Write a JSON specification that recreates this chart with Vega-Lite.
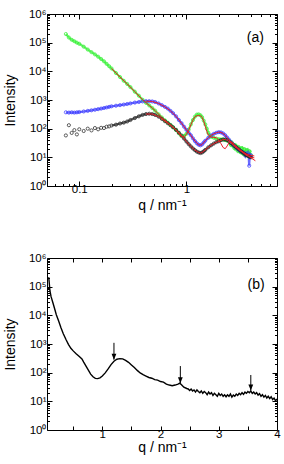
{
  "$schema": "https://vega.github.io/schema/vega-lite/v6.json",
  "padding": {"left": 2, "top": 7, "right": 5, "bottom": 2},
  "spacing": 38,
  "config": {
    "view": {"stroke": "black", "strokeWidth": 1},
    "font": "Liberation Sans",
    "axis": {"domain": false, "grid": false, "tickColor": "black", "tickWidth": 1, "labelFont": "Liberation Sans", "labelFontSize": 11.5, "labelColor": "black", "titleFont": "Liberation Sans", "titleFontSize": 14, "titleFontWeight": "normal", "titleColor": "black", "labelOverlap": false, "labelFlush": false}
  },
  "datasets": {
    "pts": [
      {"s":"g","q":0.075,"I":200000},{"s":"g","q":0.08,"I":151000},{"s":"g","q":0.085,"I":126000},{"s":"g","q":0.09,"I":112000},{"s":"g","q":0.095,"I":100000},{"s":"g","q":0.1,"I":91200},{"s":"g","q":0.11,"I":72400},{"s":"g","q":0.12,"I":57500},{"s":"g","q":0.13,"I":46800},{"s":"g","q":0.14,"I":38900},{"s":"g","q":0.15,"I":32400},{"s":"g","q":0.16,"I":26900},{"s":"g","q":0.17,"I":22400},{"s":"g","q":0.18,"I":18200},{"s":"g","q":0.19,"I":15100},{"s":"g","q":0.2,"I":12600},{"s":"g","q":0.22,"I":8710},{"s":"g","q":0.24,"I":6310},{"s":"g","q":0.26,"I":4680},{"s":"g","q":0.28,"I":3630},{"s":"g","q":0.3,"I":2820},{"s":"g","q":0.33,"I":1950},{"s":"g","q":0.36,"I":1410},{"s":"g","q":0.39,"I":1020},{"s":"g","q":0.42,"I":794},{"s":"g","q":0.45,"I":646},{"s":"g","q":0.48,"I":525},{"s":"g","q":0.51,"I":427},{"s":"g","q":0.55,"I":316},{"s":"g","q":0.59,"I":245},{"s":"g","q":0.63,"I":195},{"s":"g","q":0.67,"I":162},{"s":"g","q":0.71,"I":135},{"s":"g","q":0.75,"I":112},{"s":"g","q":0.8,"I":89},{"s":"g","q":0.85,"I":69},{"s":"g","q":0.9,"I":55},{"s":"g","q":0.95,"I":55},{"s":"g","q":1.0,"I":66},{"s":"g","q":1.05,"I":93},{"s":"g","q":1.1,"I":141},{"s":"g","q":1.15,"I":200},{"s":"g","q":1.2,"I":263},{"s":"g","q":1.25,"I":309},{"s":"g","q":1.3,"I":316},{"s":"g","q":1.35,"I":295},{"s":"g","q":1.4,"I":251},{"s":"g","q":1.45,"I":191},{"s":"g","q":1.5,"I":141},{"s":"g","q":1.55,"I":100},{"s":"g","q":1.6,"I":72},{"s":"g","q":1.65,"I":58},{"s":"g","q":1.7,"I":52},{"s":"g","q":1.8,"I":48},{"s":"g","q":1.9,"I":45},{"s":"g","q":2.0,"I":43},{"s":"g","q":2.1,"I":42},{"s":"g","q":2.2,"I":42},{"s":"g","q":2.3,"I":40},{"s":"g","q":2.4,"I":38},{"s":"g","q":2.5,"I":38},{"s":"g","q":2.55,"I":31},{"s":"g","q":2.6,"I":27},{"s":"g","q":2.65,"I":33},{"s":"g","q":2.7,"I":29},{"s":"g","q":2.75,"I":24},{"s":"g","q":2.8,"I":21},{"s":"g","q":2.85,"I":27},{"s":"g","q":2.9,"I":25},{"s":"g","q":2.95,"I":19},{"s":"g","q":3.0,"I":17},{"s":"g","q":3.05,"I":23},{"s":"g","q":3.1,"I":22},{"s":"g","q":3.15,"I":16},{"s":"g","q":3.2,"I":15},{"s":"g","q":3.25,"I":20},{"s":"g","q":3.3,"I":21},{"s":"g","q":3.35,"I":14},{"s":"g","q":3.4,"I":13},{"s":"g","q":3.45,"I":19},{"s":"g","q":3.5,"I":19},{"s":"g","q":3.55,"I":12},{"s":"g","q":3.6,"I":12},{"s":"g","q":3.65,"I":17},{"s":"g","q":3.7,"I":18},{"s":"g","q":3.75,"I":12},{"s":"g","q":3.8,"I":11},{"s":"g","q":3.85,"I":16},{"s":"g","q":3.9,"I":16},{"s":"g","q":3.95,"I":11},{"s":"g","q":4.0,"I":12},
      {"s":"b","q":0.075,"I":372},{"s":"b","q":0.08,"I":363},{"s":"b","q":0.085,"I":372},{"s":"b","q":0.09,"I":363},{"s":"b","q":0.095,"I":372},{"s":"b","q":0.1,"I":380},{"s":"b","q":0.11,"I":398},{"s":"b","q":0.12,"I":417},{"s":"b","q":0.13,"I":437},{"s":"b","q":0.14,"I":457},{"s":"b","q":0.15,"I":479},{"s":"b","q":0.16,"I":501},{"s":"b","q":0.17,"I":525},{"s":"b","q":0.18,"I":550},{"s":"b","q":0.19,"I":575},{"s":"b","q":0.2,"I":603},{"s":"b","q":0.22,"I":631},{"s":"b","q":0.24,"I":661},{"s":"b","q":0.26,"I":692},{"s":"b","q":0.28,"I":724},{"s":"b","q":0.3,"I":759},{"s":"b","q":0.33,"I":813},{"s":"b","q":0.36,"I":851},{"s":"b","q":0.39,"I":891},{"s":"b","q":0.42,"I":912},{"s":"b","q":0.45,"I":912},{"s":"b","q":0.48,"I":891},{"s":"b","q":0.51,"I":851},{"s":"b","q":0.55,"I":759},{"s":"b","q":0.59,"I":661},{"s":"b","q":0.63,"I":575},{"s":"b","q":0.67,"I":501},{"s":"b","q":0.71,"I":417},{"s":"b","q":0.75,"I":347},{"s":"b","q":0.8,"I":269},{"s":"b","q":0.85,"I":200},{"s":"b","q":0.9,"I":155},{"s":"b","q":0.95,"I":117},{"s":"b","q":1.0,"I":91},{"s":"b","q":1.05,"I":72},{"s":"b","q":1.1,"I":59},{"s":"b","q":1.15,"I":46},{"s":"b","q":1.2,"I":37},{"s":"b","q":1.25,"I":31},{"s":"b","q":1.3,"I":27.5},{"s":"b","q":1.35,"I":26.3},{"s":"b","q":1.4,"I":28.2},{"s":"b","q":1.45,"I":33},{"s":"b","q":1.5,"I":38},{"s":"b","q":1.6,"I":48},{"s":"b","q":1.7,"I":58},{"s":"b","q":1.8,"I":66},{"s":"b","q":1.9,"I":72},{"s":"b","q":2.0,"I":76},{"s":"b","q":2.1,"I":74},{"s":"b","q":2.2,"I":68},{"s":"b","q":2.3,"I":59},{"s":"b","q":2.4,"I":49},{"s":"b","q":2.5,"I":41},{"s":"b","q":2.6,"I":34},{"s":"b","q":2.7,"I":29},{"s":"b","q":2.8,"I":25},{"s":"b","q":2.9,"I":22.4},{"s":"b","q":3.0,"I":20},{"s":"b","q":3.1,"I":18.2},{"s":"b","q":3.2,"I":16.6},{"s":"b","q":3.3,"I":15.5},{"s":"b","q":3.4,"I":14.5},{"s":"b","q":3.5,"I":13.8},{"s":"b","q":3.55,"I":11.5},{"s":"b","q":3.6,"I":13.2},{"s":"b","q":3.7,"I":12.6},{"s":"b","q":3.75,"I":14.5},{"s":"b","q":3.8,"I":12.3},{"s":"b","q":3.85,"I":5.1},{"s":"b","q":3.9,"I":12},{"s":"b","q":3.95,"I":10.5},{"s":"b","q":4.0,"I":11.7},
      {"s":"k","q":0.075,"I":58},{"s":"k","q":0.08,"I":132},{"s":"k","q":0.085,"I":71},{"s":"k","q":0.09,"I":89},{"s":"k","q":0.095,"I":63},{"s":"k","q":0.1,"I":95},{"s":"k","q":0.11,"I":83},{"s":"k","q":0.12,"I":100},{"s":"k","q":0.13,"I":87},{"s":"k","q":0.14,"I":105},{"s":"k","q":0.15,"I":95},{"s":"k","q":0.16,"I":107},{"s":"k","q":0.17,"I":105},{"s":"k","q":0.18,"I":117},{"s":"k","q":0.19,"I":120},{"s":"k","q":0.2,"I":129},{"s":"k","q":0.22,"I":138},{"s":"k","q":0.24,"I":151},{"s":"k","q":0.26,"I":162},{"s":"k","q":0.28,"I":178},{"s":"k","q":0.3,"I":200},{"s":"k","q":0.33,"I":234},{"s":"k","q":0.36,"I":269},{"s":"k","q":0.39,"I":302},{"s":"k","q":0.42,"I":324},{"s":"k","q":0.45,"I":331},{"s":"k","q":0.48,"I":324},{"s":"k","q":0.51,"I":302},{"s":"k","q":0.55,"I":263},{"s":"k","q":0.59,"I":219},{"s":"k","q":0.63,"I":182},{"s":"k","q":0.67,"I":155},{"s":"k","q":0.71,"I":132},{"s":"k","q":0.75,"I":112},{"s":"k","q":0.8,"I":91},{"s":"k","q":0.85,"I":72},{"s":"k","q":0.9,"I":58},{"s":"k","q":0.95,"I":45},{"s":"k","q":1.0,"I":35.5},{"s":"k","q":1.05,"I":28.8},{"s":"k","q":1.1,"I":24},{"s":"k","q":1.15,"I":20.4},{"s":"k","q":1.2,"I":17.8},{"s":"k","q":1.25,"I":15.8},{"s":"k","q":1.3,"I":14.8},{"s":"k","q":1.35,"I":14.1},{"s":"k","q":1.4,"I":14.8},{"s":"k","q":1.45,"I":16.2},{"s":"k","q":1.5,"I":18.2},{"s":"k","q":1.6,"I":22.4},{"s":"k","q":1.7,"I":26.3},{"s":"k","q":1.8,"I":30.2},{"s":"k","q":1.9,"I":33.9},{"s":"k","q":2.0,"I":36.3},{"s":"k","q":2.1,"I":39.8},{"s":"k","q":2.2,"I":41.7},{"s":"k","q":2.3,"I":41.7},{"s":"k","q":2.4,"I":39.8},{"s":"k","q":2.5,"I":35.5},{"s":"k","q":2.6,"I":31.6},{"s":"k","q":2.7,"I":28.2},{"s":"k","q":2.8,"I":25.1},{"s":"k","q":2.9,"I":22.4},{"s":"k","q":3.0,"I":20.4},{"s":"k","q":3.1,"I":18.6},{"s":"k","q":3.2,"I":16.6},{"s":"k","q":3.3,"I":15.5},{"s":"k","q":3.4,"I":14.1},{"s":"k","q":3.5,"I":13.2},{"s":"k","q":3.6,"I":12},{"s":"k","q":3.7,"I":11.5},{"s":"k","q":3.8,"I":11},{"s":"k","q":3.9,"I":10.5},{"s":"k","q":4.0,"I":10}
    ],
    "fits": [
      {"s":"gf","q":0.2,"I":12600},{"s":"gf","q":0.24,"I":6310},{"s":"gf","q":0.28,"I":3630},{"s":"gf","q":0.33,"I":1950},{"s":"gf","q":0.39,"I":1020},{"s":"gf","q":0.45,"I":646},{"s":"gf","q":0.51,"I":427},{"s":"gf","q":0.59,"I":245},{"s":"gf","q":0.67,"I":162},{"s":"gf","q":0.75,"I":112},{"s":"gf","q":0.8,"I":89},{"s":"gf","q":0.85,"I":68},{"s":"gf","q":0.9,"I":52},{"s":"gf","q":0.95,"I":52},{"s":"gf","q":1.0,"I":63},{"s":"gf","q":1.05,"I":90},{"s":"gf","q":1.1,"I":135},{"s":"gf","q":1.15,"I":200},{"s":"gf","q":1.2,"I":260},{"s":"gf","q":1.25,"I":282},{"s":"gf","q":1.3,"I":285},{"s":"gf","q":1.35,"I":282},{"s":"gf","q":1.4,"I":250},{"s":"gf","q":1.45,"I":180},{"s":"gf","q":1.5,"I":120},{"s":"gf","q":1.55,"I":80},{"s":"gf","q":1.6,"I":60},{"s":"gf","q":1.7,"I":50},{"s":"gf","q":1.8,"I":50},{"s":"gf","q":1.9,"I":48},{"s":"gf","q":2.0,"I":40},{"s":"gf","q":2.1,"I":30},{"s":"gf","q":2.2,"I":22},{"s":"gf","q":2.3,"I":20},{"s":"gf","q":2.4,"I":25},{"s":"gf","q":2.5,"I":33},{"s":"gf","q":2.6,"I":35},{"s":"gf","q":2.7,"I":33},{"s":"gf","q":2.8,"I":28},{"s":"gf","q":3.0,"I":22},{"s":"gf","q":3.2,"I":18},{"s":"gf","q":3.5,"I":14},{"s":"gf","q":3.8,"I":11},{"s":"gf","q":4.1,"I":9},{"s":"gf","q":4.4,"I":7.6},
      {"s":"bf","q":0.42,"I":912},{"s":"bf","q":0.48,"I":891},{"s":"bf","q":0.55,"I":759},{"s":"bf","q":0.63,"I":575},{"s":"bf","q":0.71,"I":417},{"s":"bf","q":0.8,"I":269},{"s":"bf","q":0.9,"I":155},{"s":"bf","q":1.0,"I":91},{"s":"bf","q":1.1,"I":59},{"s":"bf","q":1.2,"I":37},{"s":"bf","q":1.3,"I":27.5},{"s":"bf","q":1.35,"I":26.3},{"s":"bf","q":1.4,"I":28.2},{"s":"bf","q":1.5,"I":38},{"s":"bf","q":1.6,"I":48},{"s":"bf","q":1.7,"I":58},{"s":"bf","q":1.8,"I":66},{"s":"bf","q":1.9,"I":72},{"s":"bf","q":2.0,"I":76},{"s":"bf","q":2.1,"I":74},{"s":"bf","q":2.2,"I":68},{"s":"bf","q":2.3,"I":59},{"s":"bf","q":2.4,"I":49},{"s":"bf","q":2.6,"I":34},{"s":"bf","q":2.8,"I":25},{"s":"bf","q":3.0,"I":20},{"s":"bf","q":3.3,"I":15.5},{"s":"bf","q":3.6,"I":13.2},{"s":"bf","q":4.0,"I":11.7},{"s":"bf","q":4.3,"I":11.2},
      {"s":"kf","q":0.42,"I":324},{"s":"kf","q":0.48,"I":324},{"s":"kf","q":0.55,"I":263},{"s":"kf","q":0.63,"I":182},{"s":"kf","q":0.71,"I":132},{"s":"kf","q":0.8,"I":91},{"s":"kf","q":0.9,"I":58},{"s":"kf","q":1.0,"I":35.5},{"s":"kf","q":1.1,"I":24},{"s":"kf","q":1.2,"I":17.8},{"s":"kf","q":1.3,"I":14.8},{"s":"kf","q":1.35,"I":14.1},{"s":"kf","q":1.4,"I":14.8},{"s":"kf","q":1.5,"I":18.2},{"s":"kf","q":1.6,"I":22.4},{"s":"kf","q":1.7,"I":26.3},{"s":"kf","q":1.8,"I":30.2},{"s":"kf","q":2.0,"I":36.3},{"s":"kf","q":2.2,"I":41.7},{"s":"kf","q":2.3,"I":41.7},{"s":"kf","q":2.4,"I":39.8},{"s":"kf","q":2.6,"I":31.6},{"s":"kf","q":2.8,"I":25.1},{"s":"kf","q":3.0,"I":20.4},{"s":"kf","q":3.3,"I":15.5},{"s":"kf","q":3.6,"I":12},{"s":"kf","q":4.0,"I":10},{"s":"kf","q":4.3,"I":9.6}
    ],
    "curve": [
      {"q":0.08,"I":214000},{"q":0.09,"I":126000},{"q":0.1,"I":72400},{"q":0.12,"I":44700},{"q":0.15,"I":28200},{"q":0.18,"I":17400},{"q":0.21,"I":10500},{"q":0.25,"I":6310},{"q":0.29,"I":3720},{"q":0.33,"I":2290},{"q":0.38,"I":1380},{"q":0.42,"I":955},{"q":0.46,"I":708},{"q":0.5,"I":575},{"q":0.55,"I":457},{"q":0.6,"I":372},{"q":0.65,"I":302},{"q":0.68,"I":234},{"q":0.72,"I":170},{"q":0.76,"I":123},{"q":0.8,"I":89},{"q":0.84,"I":72},{"q":0.88,"I":63},{"q":0.92,"I":62},{"q":0.96,"I":66},{"q":1.0,"I":76},{"q":1.05,"I":98},{"q":1.1,"I":135},{"q":1.15,"I":191},{"q":1.2,"I":251},{"q":1.25,"I":295},{"q":1.3,"I":309},{"q":1.35,"I":302},{"q":1.4,"I":269},{"q":1.45,"I":229},{"q":1.5,"I":186},{"q":1.55,"I":151},{"q":1.6,"I":120},{"q":1.65,"I":98},{"q":1.7,"I":85},{"q":1.75,"I":76},{"q":1.8,"I":68},{"q":1.85,"I":64},{"q":1.9,"I":57},{"q":1.95,"I":55},{"q":2.0,"I":49},{"q":2.05,"I":47},{"q":2.1,"I":40},{"q":2.15,"I":37},{"q":2.2,"I":35},{"q":2.25,"I":37},{"q":2.3,"I":40},{"q":2.33,"I":43},{"q":2.36,"I":38},{"q":2.4,"I":31},{"q":2.45,"I":28},
      {"q":2.475,"I":27},{"q":2.5,"I":24},{"q":2.525,"I":27},{"q":2.55,"I":23},{"q":2.575,"I":25},{"q":2.6,"I":21},{"q":2.625,"I":25},{"q":2.65,"I":22},{"q":2.675,"I":20},{"q":2.7,"I":23},{"q":2.725,"I":19},{"q":2.75,"I":22},{"q":2.775,"I":20},{"q":2.8,"I":17},{"q":2.825,"I":21},{"q":2.85,"I":18},{"q":2.875,"I":20},{"q":2.9,"I":16},{"q":2.925,"I":19},{"q":2.95,"I":17},{"q":2.975,"I":15},{"q":3.0,"I":19},{"q":3.025,"I":16},{"q":3.05,"I":18},{"q":3.075,"I":15},{"q":3.1,"I":17},{"q":3.125,"I":14.5},{"q":3.15,"I":17},{"q":3.175,"I":15},{"q":3.2,"I":18},{"q":3.225,"I":14},{"q":3.25,"I":16.5},{"q":3.275,"I":15},{"q":3.3,"I":18},{"q":3.325,"I":16},{"q":3.35,"I":19},{"q":3.375,"I":17},{"q":3.4,"I":20},{"q":3.425,"I":17.5},{"q":3.45,"I":21},{"q":3.475,"I":19},{"q":3.5,"I":22},{"q":3.525,"I":20},{"q":3.55,"I":23},{"q":3.575,"I":19},{"q":3.6,"I":21},{"q":3.625,"I":18},{"q":3.65,"I":20},{"q":3.675,"I":16.5},{"q":3.7,"I":18.5},{"q":3.725,"I":15},{"q":3.75,"I":17},{"q":3.775,"I":14},{"q":3.8,"I":16},{"q":3.825,"I":13},{"q":3.85,"I":15},{"q":3.875,"I":12.5},{"q":3.9,"I":14.5},{"q":3.925,"I":11.5},{"q":3.95,"I":13},{"q":3.975,"I":10.5},{"q":4.0,"I":12}
    ],
    "arrows": [
      {"q":1.2,"top":1100,"tip":285},
      {"q":2.34,"top":170,"tip":43},
      {"q":3.55,"top":83,"tip":24}
    ]
  },
  "vconcat": [
    {
      "width": 230,
      "height": 172,
      "resolve": {"axis": {"x": "independent", "y": "independent"}},
      "layer": [
        {
          "data": {"name": "pts"},
          "transform": [{"filter": "datum.s != 'k' || datum.q >= 0.2"}],
          "mark": {"type": "line", "strokeWidth": 2.2, "opacity": 0.75},
          "encoding": {
            "x": {"field": "q", "type": "quantitative", "scale": {"type": "log", "domain": [0.05, 7], "nice": false}, "axis": null},
            "y": {"field": "I", "type": "quantitative", "scale": {"type": "log", "domain": [1, 1000000], "nice": false}, "axis": null},
            "color": {"field": "s", "type": "nominal", "scale": {"domain": ["g", "b", "k"], "range": ["#33f033", "#3a3aff", "#222222"]}, "legend": null}
          }
        },
        {
          "data": {"name": "pts"},
          "mark": {"type": "point", "shape": "circle", "filled": false, "size": 10, "strokeWidth": 0.8, "opacity": 0.9},
          "encoding": {
            "x": {"field": "q", "type": "quantitative", "scale": {"type": "log", "domain": [0.05, 7], "nice": false},
              "axis": {"orient": "bottom", "title": "q / nm⁻¹", "values": [0.05,0.06,0.07,0.08,0.09,0.1,0.2,0.3,0.4,0.5,0.6,0.7,0.8,0.9,1,2,3,4,5,6,7],
                "labelExpr": "datum.value == 0.1 ? '0.1' : datum.value == 1 ? '1' : ''",
                "tickSize": {"condition": {"test": "datum.value == 0.1 || datum.value == 1", "value": -5}, "value": -2.5},
                "labelPadding": 2, "titlePadding": 1}},
            "y": {"field": "I", "type": "quantitative", "scale": {"type": "log", "domain": [1, 1000000], "nice": false},
              "axis": {"orient": "left", "title": "Intensity", "values": [1,2,3,4,5,6,7,8,9,10,20,30,40,50,60,70,80,90,100,200,300,400,500,600,700,800,900,1000,2000,3000,4000,5000,6000,7000,8000,9000,10000,20000,30000,40000,50000,60000,70000,80000,90000,100000,200000,300000,400000,500000,600000,700000,800000,900000,1000000],
                "labelExpr": "abs(log(datum.value)/LN10 - round(log(datum.value)/LN10)) < 0.000001 ? '10' + ['⁰','¹','²','³','⁴','⁵','⁶'][round(log(datum.value)/LN10)] : ''",
                "tickSize": {"condition": {"test": "abs(log(datum.value)/LN10 - round(log(datum.value)/LN10)) < 0.000001", "value": -5}, "value": -2.5},
                "labelPadding": 6, "titlePadding": 11}},
            "color": {"field": "s", "type": "nominal", "scale": {"domain": ["g", "b", "k"], "range": ["#33f033", "#3a3aff", "#222222"]}, "legend": null}
          }
        },
        {
          "data": {"name": "fits"},
          "mark": {"type": "line", "color": "#ee1c25", "strokeWidth": 1},
          "encoding": {
            "x": {"field": "q", "type": "quantitative", "scale": {"type": "log", "domain": [0.05, 7], "nice": false}, "axis": null},
            "y": {"field": "I", "type": "quantitative", "scale": {"type": "log", "domain": [1, 1000000], "nice": false}, "axis": null},
            "detail": {"field": "s"}
          }
        },
        {
          "data": {"values": [{"q": 4.4, "I": 140000, "t": "(a)"}]},
          "mark": {"type": "text", "fontSize": 14, "font": "Liberation Sans", "color": "black"},
          "encoding": {
            "x": {"field": "q", "type": "quantitative", "scale": {"type": "log", "domain": [0.05, 7], "nice": false},
              "axis": {"orient": "top", "title": null, "labels": false, "values": [0.05,0.06,0.07,0.08,0.09,0.1,0.2,0.3,0.4,0.5,0.6,0.7,0.8,0.9,1,2,3,4,5,6,7],
                "tickSize": {"condition": {"test": "datum.value == 0.1 || datum.value == 1", "value": -5}, "value": -2.5}}},
            "y": {"field": "I", "type": "quantitative", "scale": {"type": "log", "domain": [1, 1000000], "nice": false},
              "axis": {"orient": "right", "title": null, "labels": false, "values": [1,2,3,4,5,6,7,8,9,10,20,30,40,50,60,70,80,90,100,200,300,400,500,600,700,800,900,1000,2000,3000,4000,5000,6000,7000,8000,9000,10000,20000,30000,40000,50000,60000,70000,80000,90000,100000,200000,300000,400000,500000,600000,700000,800000,900000,1000000],
                "tickSize": {"condition": {"test": "abs(log(datum.value)/LN10 - round(log(datum.value)/LN10)) < 0.000001", "value": -5}, "value": -2.5}}},
            "text": {"field": "t"}
          }
        }
      ]
    },
    {
      "width": 230,
      "height": 172,
      "resolve": {"axis": {"x": "independent", "y": "independent"}},
      "layer": [
        {
          "data": {"name": "curve"},
          "mark": {"type": "line", "color": "black", "strokeWidth": 1.4},
          "encoding": {
            "x": {"field": "q", "type": "quantitative", "scale": {"domain": [0.05, 4], "nice": false, "zero": false},
              "axis": {"orient": "bottom", "title": "q / nm⁻¹", "values": [0.5,1,1.5,2,2.5,3,3.5,4],
                "labelExpr": "datum.value % 1 == 0 ? format(datum.value, 'd') : ''",
                "tickSize": -4, "labelPadding": 2, "titlePadding": 1}},
            "y": {"field": "I", "type": "quantitative", "scale": {"type": "log", "domain": [1, 1000000], "nice": false},
              "axis": {"orient": "left", "title": "Intensity", "values": [1,2,3,4,5,6,7,8,9,10,20,30,40,50,60,70,80,90,100,200,300,400,500,600,700,800,900,1000,2000,3000,4000,5000,6000,7000,8000,9000,10000,20000,30000,40000,50000,60000,70000,80000,90000,100000,200000,300000,400000,500000,600000,700000,800000,900000,1000000],
                "labelExpr": "abs(log(datum.value)/LN10 - round(log(datum.value)/LN10)) < 0.000001 ? '10' + ['⁰','¹','²','³','⁴','⁵','⁶'][round(log(datum.value)/LN10)] : ''",
                "tickSize": {"condition": {"test": "abs(log(datum.value)/LN10 - round(log(datum.value)/LN10)) < 0.000001", "value": -5}, "value": -2.5},
                "labelPadding": 6, "titlePadding": 11}}
          }
        },
        {
          "data": {"name": "arrows"},
          "mark": {"type": "rule", "color": "black", "strokeWidth": 1},
          "encoding": {
            "x": {"field": "q", "type": "quantitative", "scale": {"domain": [0.05, 4], "nice": false, "zero": false}, "axis": null},
            "y": {"field": "top", "type": "quantitative", "scale": {"type": "log", "domain": [1, 1000000], "nice": false}, "axis": null},
            "y2": {"field": "tip"}
          }
        },
        {
          "data": {"name": "arrows"},
          "mark": {"type": "point", "shape": "M-0.6,-1.5L0.6,-1.5L0,0Z", "filled": true, "color": "black", "size": 64, "opacity": 1},
          "encoding": {
            "x": {"field": "q", "type": "quantitative", "scale": {"domain": [0.05, 4], "nice": false, "zero": false}, "axis": null},
            "y": {"field": "tip", "type": "quantitative", "scale": {"type": "log", "domain": [1, 1000000], "nice": false}, "axis": null}
          }
        },
        {
          "data": {"values": [{"q": 3.64, "I": 110000, "t": "(b)"}]},
          "mark": {"type": "text", "fontSize": 14, "font": "Liberation Sans", "color": "black"},
          "encoding": {
            "x": {"field": "q", "type": "quantitative", "scale": {"domain": [0.05, 4], "nice": false, "zero": false},
              "axis": {"orient": "top", "title": null, "labels": false, "values": [0.5,1,1.5,2,2.5,3,3.5,4], "tickSize": -4}},
            "y": {"field": "I", "type": "quantitative", "scale": {"type": "log", "domain": [1, 1000000], "nice": false},
              "axis": {"orient": "right", "title": null, "labels": false, "values": [1,2,3,4,5,6,7,8,9,10,20,30,40,50,60,70,80,90,100,200,300,400,500,600,700,800,900,1000,2000,3000,4000,5000,6000,7000,8000,9000,10000,20000,30000,40000,50000,60000,70000,80000,90000,100000,200000,300000,400000,500000,600000,700000,800000,900000,1000000],
                "tickSize": {"condition": {"test": "abs(log(datum.value)/LN10 - round(log(datum.value)/LN10)) < 0.000001", "value": -5}, "value": -2.5}}},
            "text": {"field": "t"}
          }
        }
      ]
    }
  ]
}
